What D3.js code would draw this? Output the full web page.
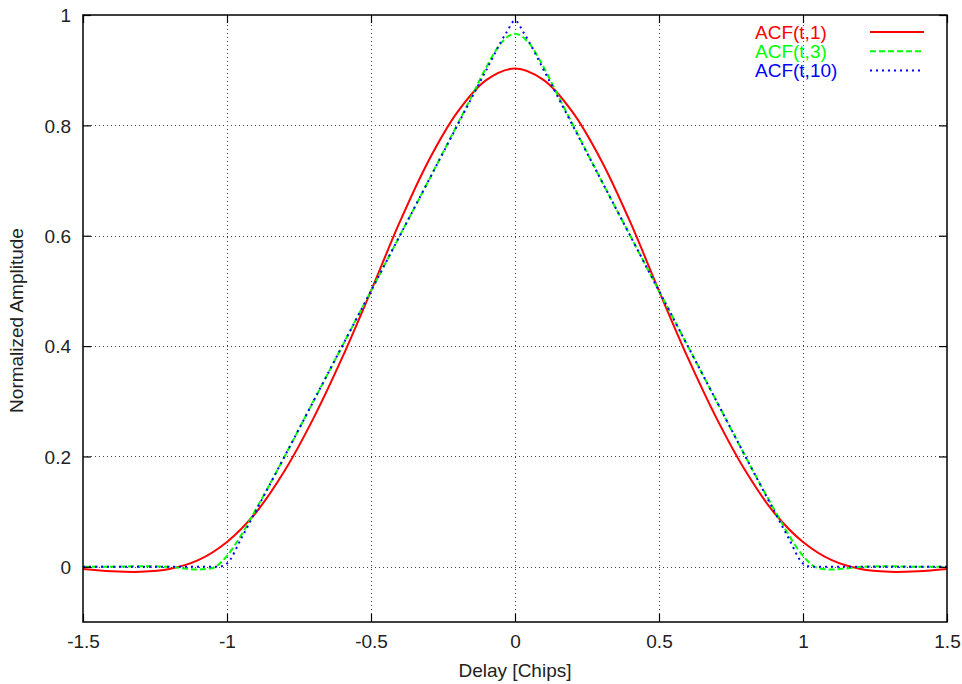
<!DOCTYPE html>
<html>
<head>
<meta charset="utf-8">
<script src="https://cdn.jsdelivr.net/npm/d3@7"></script>
<style>
 html,body{margin:0;padding:0;background:#fff;}
 svg text{font-family:"Liberation Sans",Arial,Helvetica,sans-serif;}
</style>
</head>
<body>
<div id="chart"></div>
<script>
(function(){
// values
const xTicks=[-1.5,-1,-0.5,0,0.5,1,1.5];
const yTicks=[0,0.2,0.4,0.6,0.8,1];

const delay1=[-1.5,-1.4,-1.3,-1.2,-1.1,-1.0,-0.9,-0.8,-0.7,-0.6,-0.5,-0.4,-0.3,-0.2,-0.1,0,
  0.1,0.2,0.3,0.4,0.5,0.6,0.7,0.8,0.9,1.0,1.1,1.2,1.3,1.4,1.5];
const acf1=[-0.004,-0.008,-0.009,-0.004,0.012,0.045,0.098,0.174,0.269,0.379,0.500,0.625,0.736,0.824,0.882,0.903,
  0.882,0.824,0.736,0.625,0.500,0.379,0.269,0.174,0.098,0.045,0.012,-0.004,-0.009,-0.008,-0.004];

const delay3=[-1.5,-1.4,-1.3,-1.2,-1.15,-1.1,-1.05,-1.0,-0.95,-0.9,-0.85,-0.8,-0.7,-0.6,-0.5,-0.4,-0.3,-0.2,-0.15,-0.1,-0.05,0,
  0.05,0.1,0.15,0.2,0.3,0.4,0.5,0.6,0.7,0.8,0.85,0.9,0.95,1.0,1.05,1.1,1.15,1.2,1.3,1.4,1.5];
const acf3=[0,0,0.001,0,-0.003,-0.005,-0.002,0.020,0.058,0.104,0.151,0.200,0.300,0.400,0.500,0.600,0.700,0.802,0.853,0.905,0.948,0.966,
  0.948,0.905,0.853,0.802,0.700,0.600,0.500,0.400,0.300,0.200,0.151,0.104,0.058,0.020,-0.002,-0.005,-0.003,0,0.001,0,0];

const delay10=[-1.5,-1.2,-1.1,-1.03,-1.0,-0.95,-0.9,-0.8,-0.7,-0.6,-0.5,-0.4,-0.3,-0.2,-0.1,-0.03,0,
  0.03,0.1,0.2,0.3,0.4,0.5,0.6,0.7,0.8,0.9,0.95,1.0,1.03,1.1,1.2,1.5];
const acf10=[0,0,0,0,0.006,0.052,0.101,0.200,0.300,0.400,0.500,0.600,0.700,0.800,0.900,0.968,0.990,
  0.968,0.900,0.800,0.700,0.600,0.500,0.400,0.300,0.200,0.101,0.052,0.006,0,0,0,0];

const seriesNames=['ACF(t,1)','ACF(t,3)','ACF(t,10)'];
const seriesColors=['#ff0000','#00ff00','#0000ff'];
const seriesDash=[null,'6,3','2,4'];
const seriesCurve=[d3.curveCatmullRom,d3.curveMonotoneX,d3.curveMonotoneX];
const series=[[delay1,acf1],[delay3,acf3],[delay10,acf10]];

const W=962,H=684,FS=19;
const m={l:83,r:15,t:15,b:62};
const svg=d3.select('#chart').append('svg').attr('width',W).attr('height',H);
const x=d3.scaleLinear().domain([-1.5,1.5]).range([m.l,W-m.r]);
const y=d3.scaleLinear().domain([-0.1,1]).range([H-m.b,m.t]);

// grid
const grid=svg.append('g').attr('stroke','#444').attr('stroke-width',1).attr('stroke-dasharray','1,3');
grid.selectAll('line.gx').data(xTicks.slice(1,-1)).enter().append('line')
  .attr('x1',d=>Math.round(x(d))+0.5).attr('x2',d=>Math.round(x(d))+0.5).attr('y1',y(-0.1)).attr('y2',y(1));
grid.selectAll('line.gy').data(yTicks.slice(0,-1)).enter().append('line')
  .attr('y1',d=>Math.round(y(d))+0.5).attr('y2',d=>Math.round(y(d))+0.5).attr('x1',x(-1.5)).attr('x2',x(1.5));

// curves
const plot=svg.append('g');
series.forEach((s,i)=>{
  const pts=s[0].map((t,j)=>[x(t),y(s[1][j])]);
  plot.append('path').attr('d',d3.line().curve(seriesCurve[i])(pts)).attr('fill','none')
    .attr('stroke',seriesColors[i]).attr('stroke-width',2)
    .attr('stroke-dasharray',seriesDash[i]);
});

// axes with inward, mirrored ticks
const fmt=d=>String(d);
const bottom=svg.append('g').attr('transform',`translate(0,${y(-0.1)})`)
  .call(d3.axisBottom(x).tickValues(xTicks).tickFormat(fmt).tickSizeInner(-8).tickSizeOuter(0));
const top=svg.append('g').attr('transform',`translate(0,${y(1)})`)
  .call(d3.axisTop(x).tickValues(xTicks).tickFormat('').tickSizeInner(-8).tickSizeOuter(0));
const left=svg.append('g').attr('transform',`translate(${x(-1.5)},0)`)
  .call(d3.axisLeft(y).tickValues(yTicks).tickFormat(fmt).tickSizeInner(-8).tickSizeOuter(0));
const right=svg.append('g').attr('transform',`translate(${x(1.5)},0)`)
  .call(d3.axisRight(y).tickValues(yTicks).tickFormat('').tickSizeInner(-8).tickSizeOuter(0));
[bottom,top,left,right].forEach(a=>{
  a.select('.domain').remove();
  a.selectAll('line').attr('stroke','#000').attr('stroke-width',1.2);
  a.selectAll('text').attr('font-size',FS).attr('fill','#222')
    .attr('font-family','"Liberation Sans",Arial,sans-serif');
});
bottom.selectAll('text').attr('y',26).attr('dy',0);
left.selectAll('text').attr('x',-12).attr('dy','0.36em');

// frame
svg.append('rect').attr('x',x(-1.5)).attr('y',y(1)).attr('width',x(1.5)-x(-1.5)).attr('height',y(-0.1)-y(1))
  .attr('fill','none').attr('stroke','#000').attr('stroke-width',1.5);

// axis titles
svg.append('text').attr('x',(x(-1.5)+x(1.5))/2).attr('y',677).attr('text-anchor','middle')
  .attr('font-size',FS).attr('fill','#222').text('Delay [Chips]');
svg.append('text').attr('transform',`translate(23,${(y(-0.1)+y(1))/2+2}) rotate(-90)`).attr('text-anchor','middle')
  .attr('font-size',FS).attr('fill','#222').text('Normalized Amplitude');

// legend
const key=svg.append('g');
seriesNames.forEach((n,i)=>{
  const yy=32+i*19.3;
  key.append('text').attr('x',755).attr('y',yy+6.5).attr('font-size',FS).attr('fill',seriesColors[i]).text(n);
  key.append('line').attr('x1',870).attr('x2',924).attr('y1',yy).attr('y2',yy)
    .attr('stroke',seriesColors[i]).attr('stroke-width',2).attr('stroke-dasharray',seriesDash[i]);
});
})();
</script>
</body>
</html>
